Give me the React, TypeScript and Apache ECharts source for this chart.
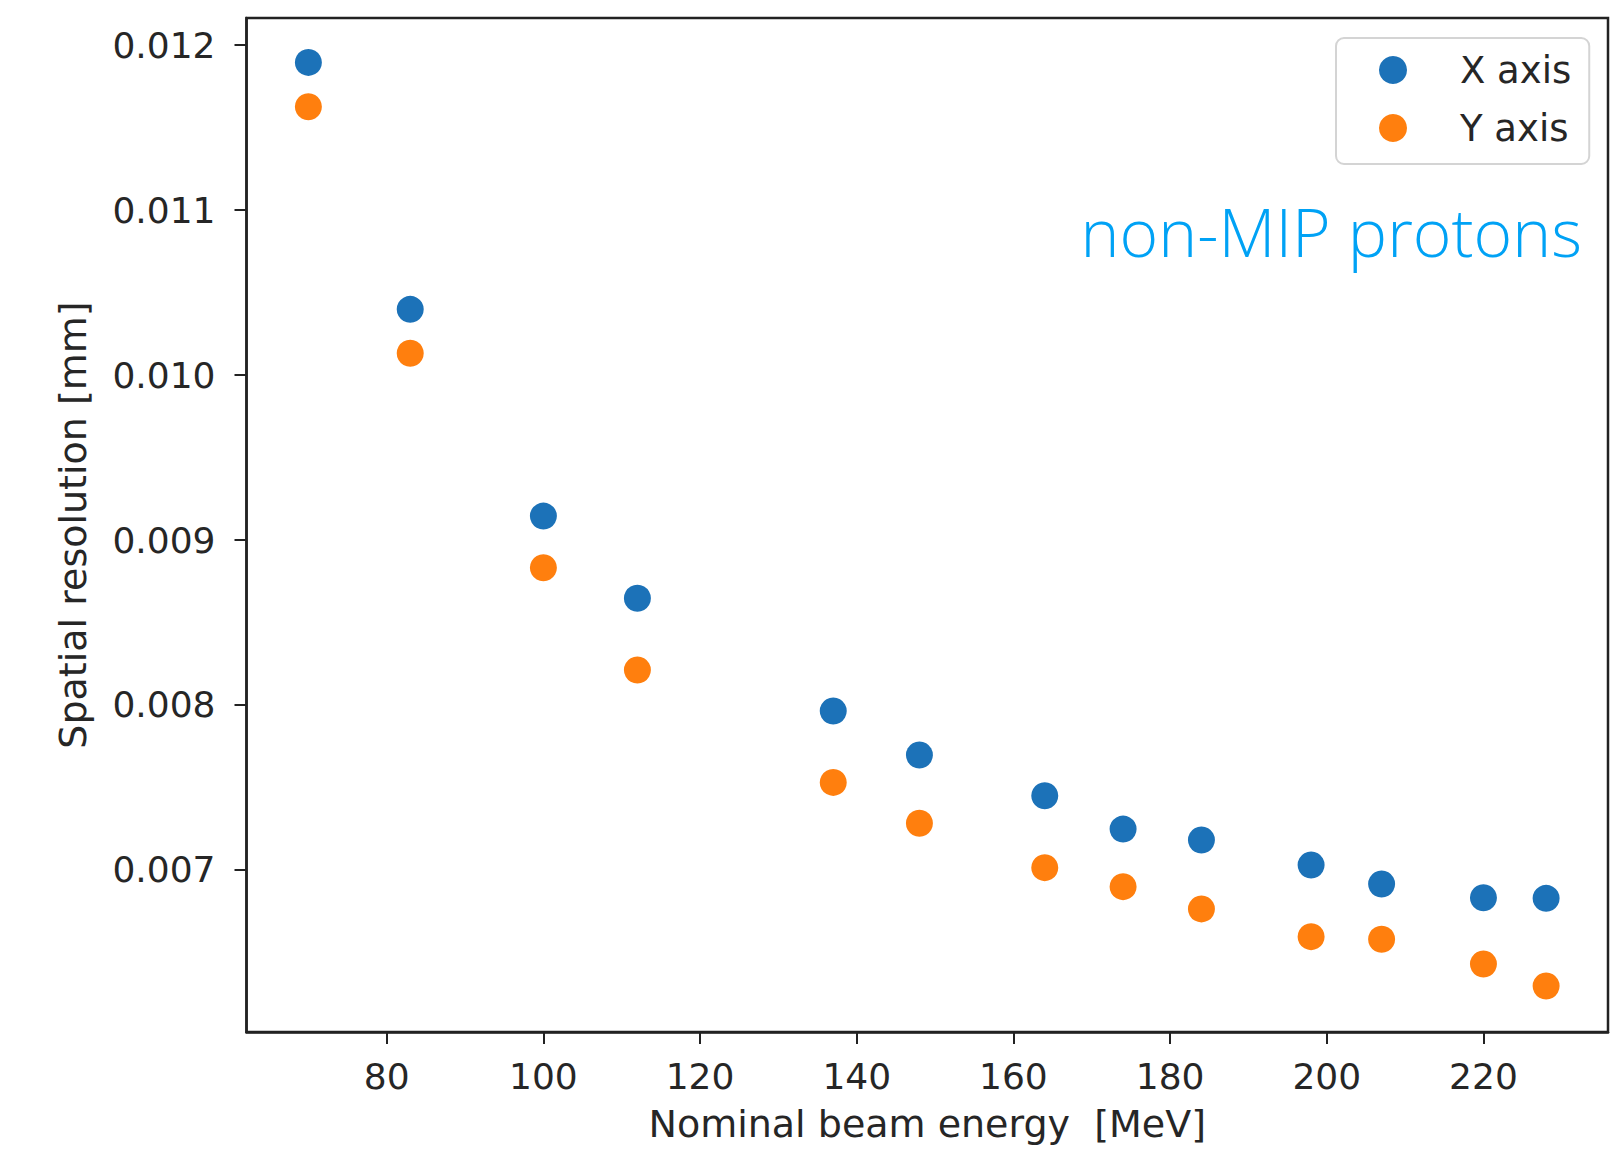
import React, { useEffect, useRef } from "react";
import * as echarts from "echarts";

const energies = [70, 83, 100, 112, 137, 148, 164, 174, 184, 198, 207, 220, 228];
const xAxisRes = [0.011895, 0.010398, 0.009145, 0.008647, 0.007964, 0.007697, 0.00745, 0.007248, 0.007182, 0.00703, 0.006915, 0.006832, 0.006828];
const yAxisRes = [0.011626, 0.010132, 0.008832, 0.008212, 0.007531, 0.007283, 0.007014, 0.006899, 0.006764, 0.006596, 0.00658, 0.00643, 0.006297];
const xTicks = [80, 100, 120, 140, 160, 180, 200, 220];
const yTicks = [0.007, 0.008, 0.009, 0.01, 0.011, 0.012];
const seriesNames = ["X axis", "Y axis"];
const annotation = "non-MIP protons";

export default function App() {
  const ref = useRef<HTMLDivElement>(null);
  useEffect(() => {
    if (!ref.current) return;
    const chart = echarts.init(ref.current, undefined, { renderer: "svg" });
    const axisColor = "#222";
    const font = "DejaVu Sans";
    chart.setOption({
      animation: false,
      backgroundColor: "#fff",
      grid: {
        left: 246.5,
        top: 18,
        width: 1361.5,
        height: 1014,
        outerBoundsMode: "none",
        containLabel: false,
        show: true,
        borderColor: axisColor,
        borderWidth: 2.5,
        backgroundColor: "transparent",
      },
      legend: {
        orient: "vertical",
        left: 1336,
        top: 38,
        padding: [12, 18, 16, 43],
        backgroundColor: "rgba(255,255,255,0.8)",
        borderColor: "#d4d4d4",
        borderWidth: 2,
        borderRadius: 8,
        itemWidth: 28,
        itemHeight: 28,
        itemGap: 18,
        icon: "circle",
        itemStyle: { opacity: 1 },
        textStyle: {
          fontFamily: font,
          fontSize: 37,
          color: "#262626",
          lineHeight: 40,
          padding: [0, 0, 0, 48],
        },
        data: seriesNames,
      },
      xAxis: {
        type: "value",
        min: 62.1,
        max: 235.9,
        name: "Nominal beam energy  [MeV]",
        nameLocation: "middle",
        nameGap: 73,
        nameTextStyle: { fontFamily: font, fontSize: 38, color: "#262626" },
        axisLine: { show: true, lineStyle: { color: axisColor, width: 2.5 } },
        axisTick: { show: true, length: 12, lineStyle: { color: axisColor, width: 2 }, customValues: xTicks },
        axisLabel: {
          fontFamily: font,
          fontSize: 36,
          color: "#262626",
          margin: 26,
          customValues: xTicks,
          formatter: (v: number) => String(v),
        },
        splitLine: { show: false },
      },
      yAxis: {
        type: "value",
        min: 0.006018,
        max: 0.012164,
        name: "Spatial resolution [mm]",
        nameLocation: "middle",
        nameGap: 155,
        nameTextStyle: { fontFamily: font, fontSize: 38, color: "#262626" },
        axisLine: { show: true, lineStyle: { color: axisColor, width: 2.5 } },
        axisTick: { show: true, length: 12, lineStyle: { color: axisColor, width: 2 }, customValues: yTicks },
        axisLabel: {
          fontFamily: font,
          fontSize: 36,
          color: "#262626",
          margin: 31,
          customValues: yTicks,
          formatter: (v: number) => v.toFixed(3),
        },
        splitLine: { show: false },
      },
      series: [
        {
          name: seriesNames[0],
          type: "scatter",
          symbolSize: 27,
          itemStyle: { color: "#1c72b8", opacity: 1 },
          data: energies.map((e, i) => [e, xAxisRes[i]]),
        },
        {
          name: seriesNames[1],
          type: "scatter",
          symbolSize: 27,
          itemStyle: { color: "#ff7f0e", opacity: 1 },
          data: energies.map((e, i) => [e, yAxisRes[i]]),
        },
      ],
      graphic: [
        {
          type: "text",
          right: 33,
          top: 198,
          style: {
            text: annotation,
            fontFamily: "Open Sans",
            fontWeight: 300,
            fontSize: 66,
            fill: "#00a2f5",
          },
        },
      ],
    });
    return () => chart.dispose();
  }, []);
  return (
    <div
      ref={ref}
      style={{ position: "absolute", left: 0, top: 0, width: 1615, height: 1149 }}
    />
  );
}
